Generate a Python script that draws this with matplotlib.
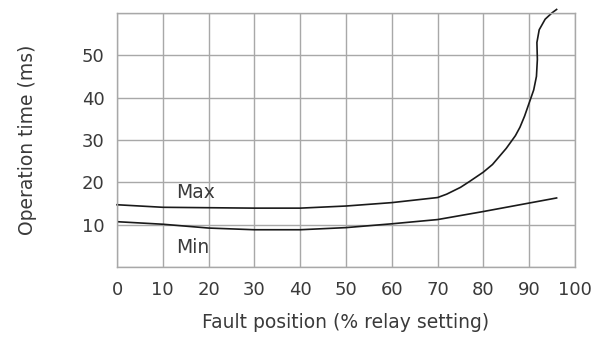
import matplotlib
matplotlib.use("Agg")
import matplotlib.pyplot as plt

# values
max_pos = [0, 10, 20, 30, 40, 50, 60, 70, 72, 75, 77, 80, 82, 85, 87, 88, 89, 90, 91, 91.6,
           91.8, 91.7, 92.2, 93.5, 95.0, 96.0]
max_time = [14.7, 14.1, 14.0, 13.9, 13.9, 14.4, 15.2, 16.4, 17.2, 18.8, 20.2, 22.4, 24.2, 28.0,
            31.0, 33.0, 35.6, 38.7, 41.8, 45.0, 49.0, 53.0, 56.0, 58.5, 60.0, 60.8]

min_pos = [0, 10, 20, 30, 40, 50, 60, 70, 80, 90, 96]
min_time = [10.7, 10.1, 9.2, 8.8, 8.8, 9.3, 10.2, 11.2, 13.1, 15.1, 16.3]

x_ticks = [0, 10, 20, 30, 40, 50, 60, 70, 80, 90, 100]
y_ticks = [10, 20, 30, 40, 50]

plt.rcParams["font.family"] = ["DejaVu Sans"]
text_col = "#3a3a3a"
grid_col = "#a8a8a8"
fs = 13.5

fig = plt.figure(figsize=(5.97, 3.38), dpi=100)
ax = fig.add_axes([0.196, 0.21, 0.767, 0.752])

ax.plot(max_pos, max_time, color="#1a1a1a", lw=1.2, clip_on=False)
ax.plot(min_pos, min_time, color="#1a1a1a", lw=1.2)

ax.text(13, 17.7, "Max", fontsize=fs, color=text_col, va="center")
ax.text(13, 4.5, "Min", fontsize=fs, color=text_col, va="center")

ax.set_xlim(0, 100)
ax.set_ylim(0, 60)
ax.set_xticks(x_ticks)
ax.set_yticks(y_ticks)
ax.set_yticks([0, 60], minor=True)
ax.tick_params(length=0, labelsize=13, labelcolor=text_col)
ax.tick_params(axis="x", pad=10)
ax.tick_params(axis="y", pad=9)
ax.tick_params(which="minor", length=0)
ax.grid(True, which="both", color=grid_col, lw=1)
for s in ax.spines.values():
    s.set_color(grid_col)
    s.set_linewidth(1)

ax.set_xlabel("Fault position (% relay setting)", fontsize=fs, color=text_col, labelpad=10)
ax.set_ylabel("Operation time (ms)", fontsize=fs, color=text_col, labelpad=32)

fig.savefig("out.png", dpi=100)
